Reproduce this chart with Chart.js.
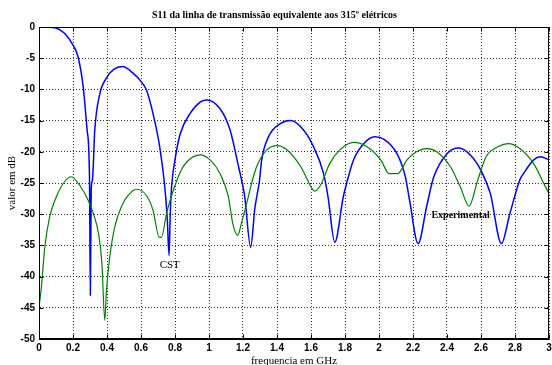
<!DOCTYPE html>
<html><head><meta charset="utf-8">
<script src="https://cdn.jsdelivr.net/npm/chart.js@4/dist/chart.umd.min.js"></script>
<style>html,body{margin:0;padding:0;background:#fff;}#wrap{width:552px;height:365px;}</style>
</head><body><div id="wrap"><canvas id="c" width="552" height="365"></canvas></div>
<script>
// CST simulation (blue)
const cstFreq = [0,0.05,0.1,0.15,0.2,0.23,0.26,0.283,0.297,0.302,0.307,0.314,0.328,0.357,0.396,0.44,0.49,0.553,0.602,0.632,0.671,0.71,0.74,0.755,0.765,0.772,0.78,0.80,0.83,0.89,0.95,0.985,1.065,1.124,1.17,1.21,1.245,1.27,1.297,1.31,1.35,1.42,1.48,1.556,1.615,1.674,1.70,1.74,1.79,1.81,1.85,1.91,1.975,2.03,2.106,2.155,2.18,2.23,2.28,2.32,2.40,2.47,2.54,2.60,2.655,2.72,2.77,2.83,2.85,2.91,2.95,3.0];
const cstDb   = [0,-0.02,-0.15,-1.0,-2.9,-4.8,-9.6,-16.5,-24,-43,-26,-24.6,-16.5,-10.8,-8.2,-6.8,-6.35,-7.4,-8.8,-10.1,-13.9,-19.2,-25.6,-31,-36.6,-30,-25.6,-21.3,-17.2,-13.8,-12.0,-11.7,-13.1,-16.5,-21.9,-27.2,-35.3,-29,-24.6,-21.3,-17.6,-15.5,-15.0,-16.5,-19.2,-23.5,-27.2,-34.5,-27.2,-25,-21.3,-18.7,-17.6,-18,-20.3,-24.0,-27.8,-34.7,-28.8,-24.2,-20.3,-19.4,-20.6,-23.0,-26.7,-34.7,-29.9,-24.4,-23.5,-21.3,-20.8,-21.3];
// Experimental measurement (green)
const expFreq = [0,0.014,0.034,0.063,0.102,0.15,0.19,0.245,0.29,0.32,0.35,0.37,0.387,0.397,0.416,0.446,0.485,0.524,0.573,0.632,0.671,0.707,0.72,0.75,0.79,0.83,0.87,0.948,1.006,1.065,1.114,1.14,1.169,1.19,1.226,1.25,1.28,1.34,1.40,1.46,1.54,1.60,1.62,1.655,1.71,1.77,1.85,1.93,2.01,2.06,2.11,2.165,2.22,2.28,2.34,2.42,2.478,2.53,2.58,2.63,2.70,2.76,2.83,2.91,2.97,3.0];
const expDb   = [-44.9,-41.7,-35.3,-30.4,-27.2,-24.8,-24.0,-25.6,-27.8,-29.9,-33.1,-37.9,-47.0,-42.2,-36.9,-32.0,-28.8,-27.0,-26.0,-27.0,-29.4,-33.7,-33.7,-29.9,-26.2,-23.3,-21.6,-20.5,-21.3,-23.5,-27.2,-31.5,-33.4,-31.5,-27.8,-25.1,-22.4,-19.7,-19.0,-19.7,-22.4,-25.6,-26.3,-25.4,-21.9,-19.7,-18.5,-19.2,-21.3,-23.5,-23.5,-21.3,-20.0,-19.5,-20.0,-22.4,-25.6,-28.7,-24.6,-20.8,-19.2,-18.7,-19.5,-21.9,-25.1,-26.7];
const xTicks = [0,0.2,0.4,0.6,0.8,1,1.2,1.4,1.6,1.8,2,2.2,2.4,2.6,2.8,3];
const xTickLabels = ['0','0.2','0.4','0.6','0.8','1','1.2','1.4','1.6','1.8','2','2.2','2.4','2.6','2.8','3'];
const yTicks = [0,-5,-10,-15,-20,-25,-30,-35,-40,-45,-50];
const yTickLabels = ['0','-5','-10','-15','-20','-25','-30','-35','-40','-45','-50'];
const titleText = 'S11 da linha de transmissão equivalente aos 315º elétricos';
const xTitle = 'frequencia em GHz';
const yTitle = 'valor em dB';
const noteTexts = ['CST','Experimental'];
const noteFreq = [0.769, 2.48];
const noteDb = [-38.2, -30.2];

const toPts = (xs, ys) => xs.map((v, i) => ({x: v, y: ys[i]}));

const frame = {
  id: 'frame',
  afterDraw(chart) {
    const {ctx, chartArea: a, scales: {x, y}} = chart;
    ctx.save();
    ctx.strokeStyle = '#000'; ctx.lineWidth = 1; ctx.setLineDash([]);
    const L = Math.round(a.left) + 0.5, R = Math.round(a.right) - 0.5, T = Math.round(a.top) + 0.5, B = Math.round(a.bottom) - 0.5;
    ctx.strokeRect(L, T, R - L, B - T);
    ctx.beginPath();
    xTicks.forEach(v => { const p = Math.round(x.getPixelForValue(v)) + 0.5; ctx.moveTo(p, B); ctx.lineTo(p, B - 4); ctx.moveTo(p, T); ctx.lineTo(p, T + 4); });
    yTicks.forEach(v => { const p = Math.round(y.getPixelForValue(v)) + 0.5; ctx.moveTo(L, p); ctx.lineTo(L + 4, p); ctx.moveTo(R, p); ctx.lineTo(R - 4, p); });
    ctx.stroke();
    ctx.fillStyle = '#000'; ctx.textAlign = 'center'; ctx.textBaseline = 'middle';
    noteTexts.forEach((t, i) => {
      ctx.font = (i === 1 ? 'bold 10px' : '11px') + ' "Liberation Serif"';
      ctx.fillText(t, x.getPixelForValue(noteFreq[i]), y.getPixelForValue(noteDb[i]));
    });
    ctx.restore();
  }
};

new Chart(document.getElementById('c'), {
  type: 'line',
  data: {
    datasets: [
      {label: 'Experimental', data: toPts(expFreq, expDb), borderColor: 'rgb(0,128,0)', borderWidth: 1.2, pointRadius: 0, cubicInterpolationMode: 'monotone', fill: false},
      {label: 'CST', data: toPts(cstFreq, cstDb), borderColor: 'rgb(0,0,255)', borderWidth: 1.5, pointRadius: 0, cubicInterpolationMode: 'monotone', fill: false}
    ]
  },
  options: {
    responsive: false, animation: false, devicePixelRatio: 1,
    layout: {padding: {left: 0, right: 3, top: 0, bottom: 0}},
    plugins: {
      legend: {display: false}, tooltip: {enabled: false},
      title: {display: true, text: titleText, color: '#000', font: {family: 'Liberation Serif', size: 10, weight: 'bold', lineHeight: 1.2}, padding: {top: 9, bottom: 6}}
    },
    scales: {
      x: {
        type: 'linear', min: 0, max: 3,
        afterBuildTicks: s => { s.ticks = xTicks.map(v => ({value: v})); },
        afterFit: s => { s.height = 26; s.paddingLeft = 0; s.paddingRight = 3; },
        ticks: {autoSkip: false, maxRotation: 0, padding: 3, color: '#000', font: {family: 'Liberation Sans', weight: 'bold', size: 10}, callback: (v, i) => xTickLabels[i]},
        grid: {color: '#333', drawTicks: false},
        border: {display: true, color: '#000', dash: [1, 2]},
        title: {display: true, text: xTitle, color: '#000', font: {family: 'Liberation Serif', size: 11, lineHeight: 1}, padding: {top: 0, bottom: -2}}
      },
      y: {
        type: 'linear', min: -50, max: 0,
        afterBuildTicks: s => { s.ticks = yTicks.map(v => ({value: v})); },
        afterFit: s => { s.width = 39; },
        ticks: {autoSkip: false, padding: 4, color: '#000', font: {family: 'Liberation Sans', weight: 'bold', size: 10}, callback: (v, i) => yTickLabels[i]},
        grid: {color: '#333', drawTicks: false},
        border: {display: true, color: '#000', dash: [1, 2]},
        title: {display: true, text: yTitle, color: '#000', font: {family: 'Liberation Serif', size: 11, lineHeight: 1}, padding: {top: 6.5, bottom: 0}}
      }
    }
  },
  plugins: [frame]
});
</script></body></html>
